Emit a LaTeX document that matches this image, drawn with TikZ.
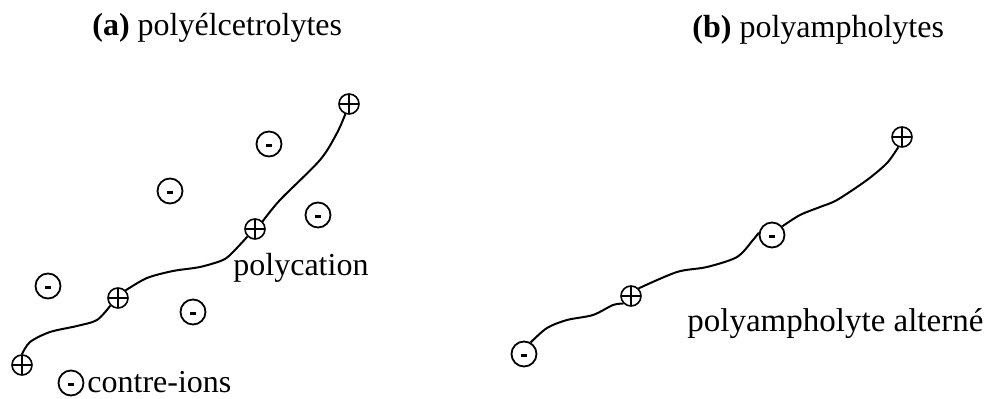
\documentclass[tikz,border=0pt]{standalone}
\usepackage{fontspec}
\setmainfont{Liberation Serif}
\begin{document}
\begin{tikzpicture}[x=0.5pt,y=-0.5pt,
  plusion/.style={circle, draw, line width=0.8pt, minimum size=10pt, inner sep=0pt,
    path picture={\draw[line width=0.7pt] (path picture bounding box.north) -- (path picture bounding box.south)
      (path picture bounding box.west) -- (path picture bounding box.east);}},
  minusion/.style={circle, draw, line width=0.9pt, minimum size=12.5pt, inner sep=0pt,
    path picture={\draw[line width=1.4pt] ([xshift=-1.3pt,yshift=-0.6pt]path picture bounding box.center) -- ++(2.6pt,0);}},
  chain/.style={line width=1pt},
  lbl/.style={inner sep=0pt, anchor=base west, font=\fontsize{16}{19}\selectfont}]
\useasboundingbox (0,0) rectangle (1000,399);

% panel (a)
\node[lbl] (ta) at (92,36) {\textbf{(a)} polyélcetrolytes};
\node[plusion] (a1) at (22,365) {};
\node[plusion] (a2) at (118,298) {};
\node[plusion] (a3) at (255,229) {};
\node[plusion] (a4) at (349,104) {};
\node[minusion] (m1) at (269,144) {};
\node[minusion] (m2) at (170,191) {};
\node[minusion] (m3) at (318,215) {};
\node[minusion] (m4) at (48,286) {};
\node[minusion] (m5) at (193,312) {};
\draw[chain] plot[smooth] coordinates {(a1.north) (30,342) (50,332) (77,326) (97,320) (a2.225)};
\draw[chain] plot[smooth] coordinates {(a2.45) (147,278) (173,271) (200,267) (223,260) (233,252) (a3.225)};
\draw[chain] plot[smooth] coordinates {(a3.45) (280,200) (320,160) (337,133) (a4.250)};
\node[lbl] (lpc) at (233,276) {polycation};
\node[minusion] (ci) at (71,383) {};
\node[lbl] (lci) at (87,393) {contre-ions};

% panel (b)
\node[lbl] (tb) at (692,38) {\textbf{(b)} polyampholytes};
\node[minusion] (b1) at (524,354) {};
\node[plusion] (b2) at (631,296) {};
\node[minusion] (b3) at (772,235) {};
\node[plusion] (b4) at (902,137) {};
\draw[chain] plot[smooth] coordinates {(b1.60) (547,328) (567,320) (593,315) (613,305) (b2.225)};
\draw[chain] plot[smooth] coordinates {(b2.45) (677,272) (707,267) (737,257) (753,240) (b3.170)};
\draw[chain] plot[smooth] coordinates {(b3.40) (800,215) (820,207) (837,200) (867,180) (887,163) (b4.250)};
\node[lbl, font=\fontsize{16.5}{20}\selectfont] (lpa) at (687,332) {polyampholyte alterné};
\end{tikzpicture}
\end{document}
